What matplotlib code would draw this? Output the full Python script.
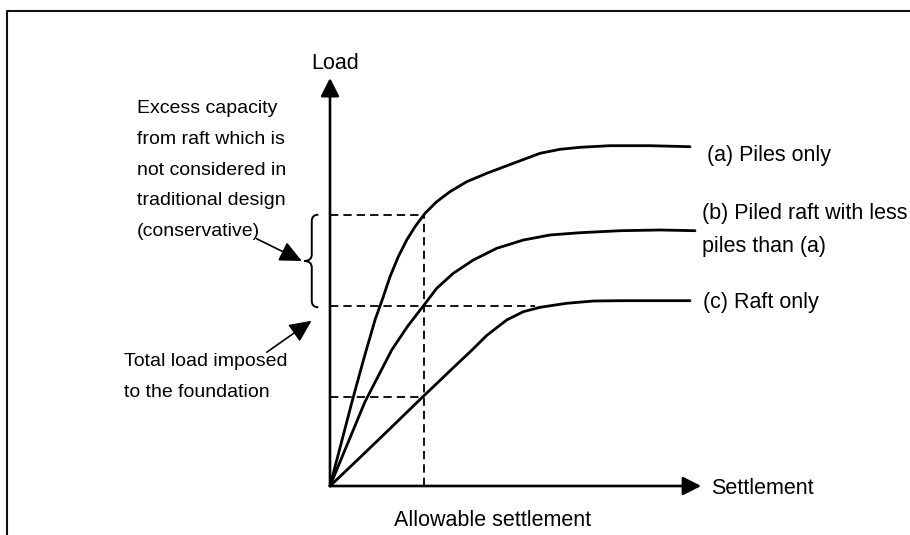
import numpy as np
import matplotlib
matplotlib.use("Agg")
import matplotlib.pyplot as plt
from matplotlib.path import Path
from matplotlib.patches import PathPatch
from matplotlib.lines import Line2D

plt.rcParams['font.family'] = ['Liberation Sans', 'DejaVu Sans']

# load-settlement curves (arbitrary units)
settle_a = [0, 3.06, 5.98, 9.04, 11.97, 14.18, 15.96, 18.16, 20.40, 22.61, 25.27,
            28.38, 31.91, 36.36, 41.68, 48.75, 55.85, 61.17, 66.49, 74.47, 85.11, 95.74]
load_a = [0, 10.78, 21.08, 31.37, 40.69, 46.40, 51.30, 56.20, 60.29, 63.55, 66.84,
          69.68, 72.13, 74.58, 76.64, 79.09, 81.54, 82.52, 83.01, 83.41, 83.41, 83.16]

settle_b = [0, 9.31, 16.41, 20.6, 24.81, 28.38, 32.79, 38.11, 44.34, 51.41, 58.51,
            66.49, 77.13, 87.77, 97.07]
load_b = [0, 20.66, 33.33, 39.1, 44.12, 48.46, 52.13, 55.39, 58.26, 60.29, 61.52,
          62.08, 62.57, 62.75, 62.57]

settle_c = [0, 8.0, 16.0, 24.39, 32.79, 37.77, 41.68, 47.0, 51.41, 55.85, 62.95,
            70.03, 77.13, 95.74]
load_c = [0, 7.0, 14.1, 21.6, 29.0, 33.33, 36.9, 40.69, 42.72, 43.80, 44.78,
          45.34, 45.42, 45.42]

curve_labels = ["(a) Piles only", "(b) Piled raft with less\npiles than (a)", "(c) Raft only"]

allow_settle = 25.0
# load of each curve at the allowable settlement: (a), (b), (c)
allow_loads = [66.4, 44.1, 21.7]
mid_dash_end = 54.5
axis_max = [98.7, 100.0]

# figure: 910x535 px, origin of diagram at px (330, 486)
fig = plt.figure(figsize=(9.1, 5.35), dpi=100)
ax = fig.add_axes([0, 0, 1, 1])
ax.set_xlim(-330 / 3.76, (910 - 330) / 3.76)
ax.set_ylim(-(535 - 486) / 4.08, 486 / 4.08)
ax.axis("off")

# outer frame (only top and left edges visible)
fig.add_artist(Line2D([7.3 / 910, 7.3 / 910, 1.0], [0.0, 1 - 11 / 535, 1 - 11 / 535],
                      transform=fig.transFigure, color="#111111", lw=1.5))

# axes with arrows
arrow_kw = dict(arrowstyle="-|>,head_length=0.55,head_width=0.28", color="black",
                lw=1.9, shrinkA=0, shrinkB=0, mutation_scale=20)
ax.annotate("", xy=(axis_max[0], 0), xytext=(0, 0), arrowprops=arrow_kw)
ax.annotate("", xy=(0, axis_max[1]), xytext=(0, 0), arrowprops=arrow_kw)

# curves
for sx, ly in [(settle_a, load_a), (settle_b, load_b), (settle_c, load_c)]:
    ax.plot(sx, ly, color="black", lw=2.0, solid_joinstyle="round", solid_capstyle="round")

# dashed guide lines
dash_kw = dict(color="black", lw=1.3, linestyle=(0, (4.6, 2.8)))
ax.plot([allow_settle, allow_settle], [0, allow_loads[0]], **dash_kw)
ax.plot([0, allow_settle], [allow_loads[0], allow_loads[0]], **dash_kw)
ax.plot([0, mid_dash_end], [allow_loads[1], allow_loads[1]], **dash_kw)
ax.plot([0, allow_settle], [allow_loads[2], allow_loads[2]], **dash_kw)

# curly brace between load (b) and load (a)
lo, hi = allow_loads[1] - 0.3, allow_loads[0] + 0.1
mid = (lo + hi) / 2
xh, xb, xt = -3.1, -4.85, -6.9
r = 1.6
verts = [(xh, hi), (xb, hi), (xb, hi - r), (xb, hi - r),
         (xb, mid + r), (xb, mid), (xt, mid), (xb, mid), (xb, mid - r),
         (xb, lo + r), (xb, lo), (xh, lo)]
codes = [Path.MOVETO, Path.CURVE3, Path.CURVE3, Path.LINETO,
         Path.LINETO, Path.CURVE3, Path.CURVE3, Path.CURVE3, Path.CURVE3,
         Path.LINETO, Path.CURVE3, Path.CURVE3]
ax.add_patch(PathPatch(Path(verts, codes), fill=False, lw=1.4, color="black"))

# annotation arrows
ann_kw = dict(arrowstyle="-|>,head_length=0.75,head_width=0.35", color="black",
              lw=1.2, shrinkA=0, shrinkB=0, mutation_scale=18)
ax.annotate("", xy=(-7.5, mid), xytext=(-19.5, 60.6), arrowprops=ann_kw)
ax.annotate("", xy=(-4.9, 40.5), xytext=(-16.8, 32.8), arrowprops=ann_kw)

# texts
ax.text(1.4, 103.6, "Load", fontsize=15.5, ha="center", va="center")
ax.text(101.3, -0.5, "Settlement", fontsize=15.5, ha="left", va="center")
ax.text(43.3, -8.4, "Allowable settlement", fontsize=15.5, ha="center", va="center")
ax.text(100.3, 81.0, curve_labels[0], fontsize=15.5, ha="left", va="center")
ax.text(98.9, 62.75, curve_labels[1], fontsize=15.5, ha="left", va="center", linespacing=1.75)
ax.text(99.3, 44.9, curve_labels[2], fontsize=15.5, ha="left", va="center")

ax.text(-51.4, 77.4, "Excess capacity\nfrom raft which is\nnot considered in\n"
        "traditional design\n(conservative)", fontsize=14, ha="left", va="center",
        linespacing=2.05)
ax.text(-54.8, 26.75, "Total load imposed\nto the foundation", fontsize=14,
        ha="left", va="center", linespacing=2.05)

fig.savefig("out.png", dpi=100)
